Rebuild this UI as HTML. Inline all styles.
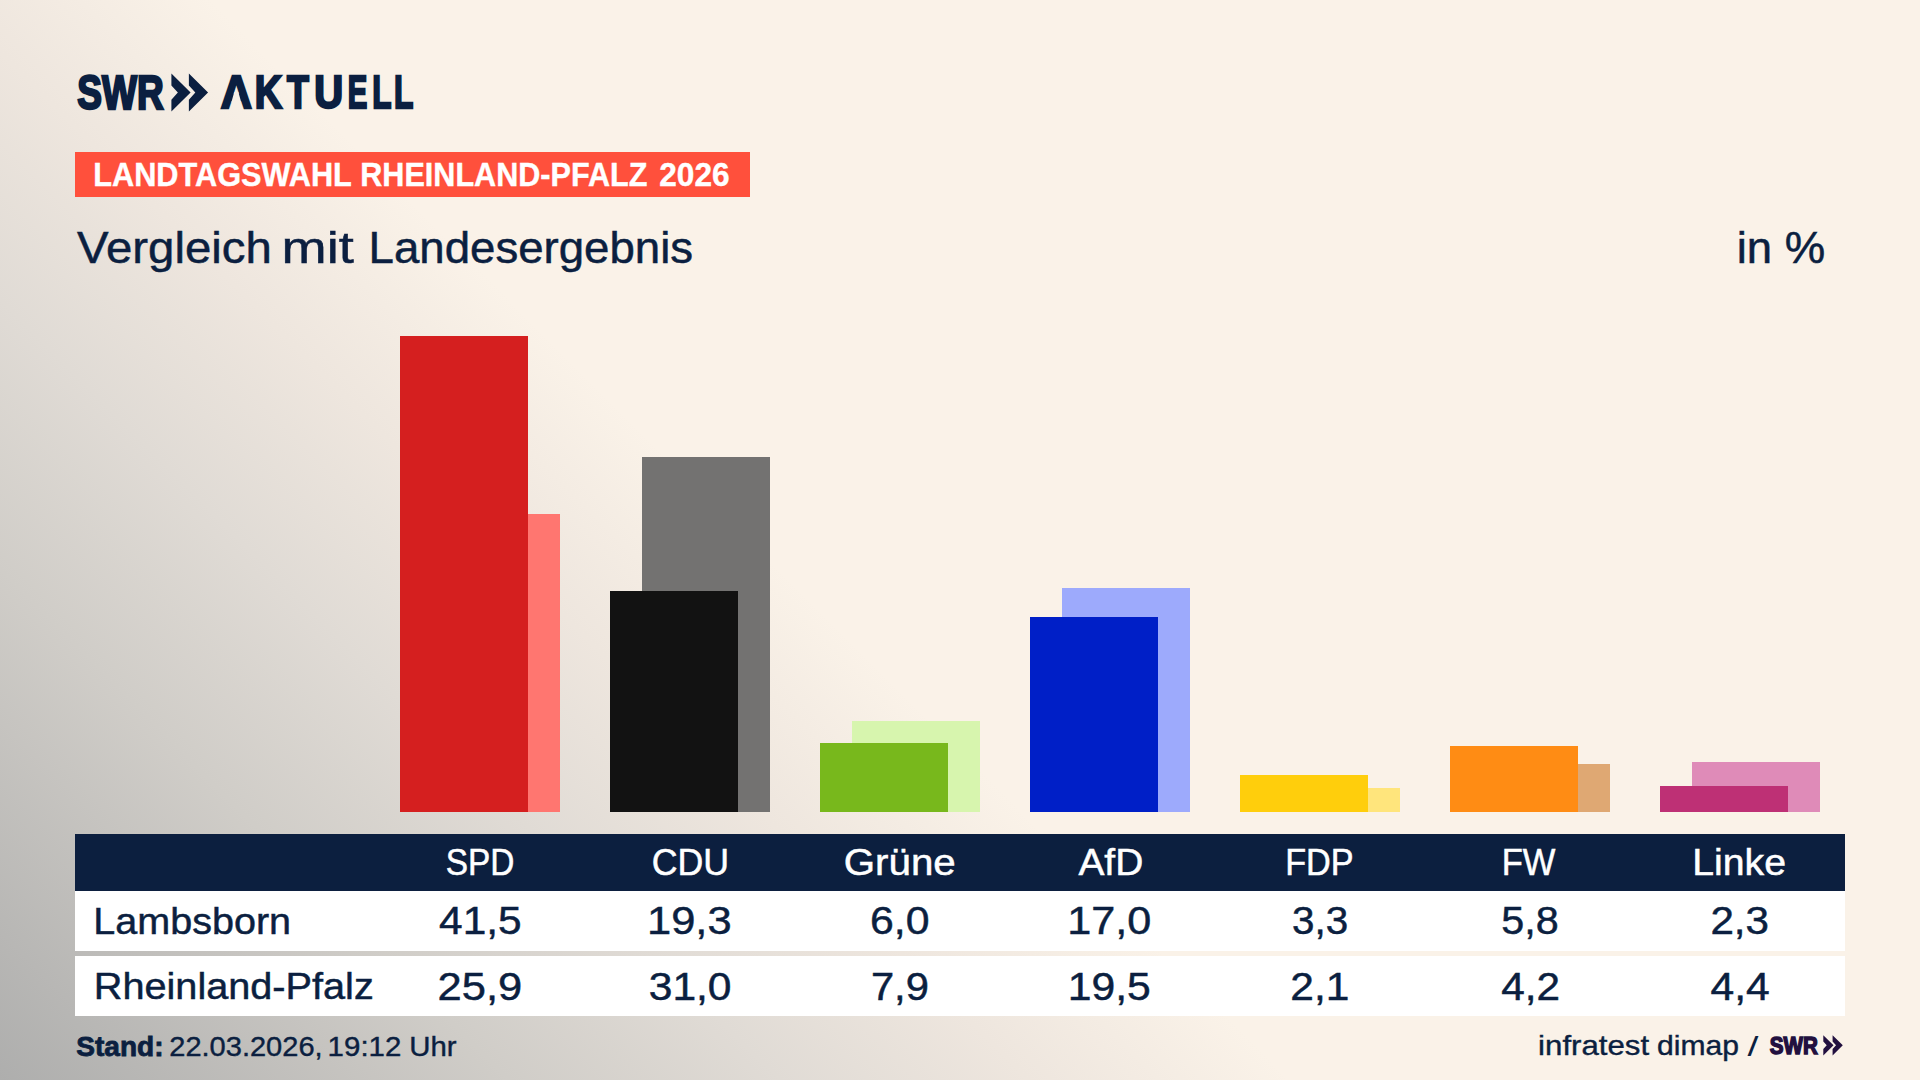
<!DOCTYPE html>
<html lang="de"><head><meta charset="utf-8"><title>Vergleich mit Landesergebnis</title>
<style>html,body{margin:0;padding:0;background:#faf2e8;overflow:hidden}body{width:1920px;height:1080px}svg{display:block}text{font-family:'Liberation Sans', sans-serif;white-space:pre}</style></head><body>
<svg width="1920" height="1080" viewBox="0 0 1920 1080">
<defs><linearGradient id="bg" gradientUnits="userSpaceOnUse" x1="0" y1="1080" x2="1500" y2="-420"><stop offset="0" stop-color="#aeaead"/><stop offset="0.17" stop-color="#d0cdc8"/><stop offset="0.26" stop-color="#e0dbd5"/><stop offset="0.343" stop-color="#eee6de"/><stop offset="0.43" stop-color="#faf2e8"/><stop offset="1" stop-color="#faf2e8"/></linearGradient></defs>
<rect x="0" y="0" width="1920" height="1080" fill="url(#bg)"/>
<rect x="75" y="152" width="675" height="45" fill="#ff503c"/>
<rect x="432" y="514.0" width="128" height="298.0" fill="#ff7670"/>
<rect x="400" y="336.0" width="128" height="476.0" fill="#d51f1f"/>
<rect x="642" y="457.0" width="128" height="355.0" fill="#737271"/>
<rect x="610" y="591.0" width="128" height="221.0" fill="#121212"/>
<rect x="852" y="721.0" width="128" height="91.0" fill="#d7f5ae"/>
<rect x="820" y="743.0" width="128" height="69.0" fill="#78b81c"/>
<rect x="1062" y="588.0" width="128" height="224.0" fill="#9daafc"/>
<rect x="1030" y="617.0" width="128" height="195.0" fill="#001fc7"/>
<rect x="1272" y="788.0" width="128" height="24.0" fill="#ffe57c"/>
<rect x="1240" y="775.0" width="128" height="37.0" fill="#ffce0c"/>
<rect x="1482" y="764.0" width="128" height="48.0" fill="#dfa873"/>
<rect x="1450" y="746.0" width="128" height="66.0" fill="#ff8c14"/>
<rect x="1692" y="762.0" width="128" height="50.0" fill="#df8bb8"/>
<rect x="1660" y="786.0" width="128" height="26.0" fill="#be3075"/>
<rect x="75" y="834" width="1770" height="57" fill="#0c1f3f"/>
<rect x="75" y="891" width="1770" height="60" fill="#ffffff"/>
<rect x="75" y="956" width="1770" height="60" fill="#ffffff"/>
<polygon points="171.40,73.60 190.59,92.60 171.40,111.60 171.40,99.63 177.86,92.60 171.40,85.57" fill="#0b1f40"/>
<polygon points="188.88,73.60 208.07,92.60 188.88,111.60 188.88,99.63 195.34,92.60 188.88,85.57" fill="#0b1f40"/>
<polygon points="1823.30,1035.20 1833.50,1045.30 1823.30,1055.40 1823.30,1049.04 1826.73,1045.30 1823.30,1041.56" fill="#22103f"/>
<polygon points="1832.59,1035.20 1842.79,1045.30 1832.59,1055.40 1832.59,1049.04 1836.03,1045.30 1832.59,1041.56" fill="#22103f"/>
<text transform="translate(77.36 108.80) scale(0.7808 1)" font-size="47.43" font-weight="700" fill="#0b1f40" stroke="#0b1f40" stroke-width="2.20" vector-effect="non-scaling-stroke">SWR</text>
<text y="108.40" font-size="46.00" font-weight="700" fill="#0b1f40" stroke="#0b1f40" stroke-width="2.40" vector-effect="non-scaling-stroke"><tspan x="220.74" textLength="31.12" lengthAdjust="spacingAndGlyphs">A</tspan><tspan x="254.83" textLength="27.35" lengthAdjust="spacingAndGlyphs">K</tspan><tspan x="287.04" textLength="21.89" lengthAdjust="spacingAndGlyphs">T</tspan><tspan x="314.30" textLength="28.89" lengthAdjust="spacingAndGlyphs">U</tspan><tspan x="347.84" textLength="19.54" lengthAdjust="spacingAndGlyphs">E</tspan><tspan x="372.31" textLength="19.25" lengthAdjust="spacingAndGlyphs">L</tspan><tspan x="394.10" textLength="19.36" lengthAdjust="spacingAndGlyphs">L</tspan></text>
<polygon points="234.20,92.13 238.39,92.13 241.29,102.51 231.31,102.51" fill="url(#bg)"/>
<text fill="#ffffff"><tspan x="93.26" y="185.80" textLength="258.58" lengthAdjust="spacingAndGlyphs" font-size="33.14" font-weight="700" stroke="#ffffff" stroke-width="0.40">LANDTAGSWAHL</tspan> <tspan x="360.27" y="185.80" textLength="287.07" lengthAdjust="spacingAndGlyphs" font-size="33.14" font-weight="700" stroke="#ffffff" stroke-width="0.40">RHEINLAND-PFALZ</tspan> <tspan x="659.25" y="185.80" textLength="70.29" lengthAdjust="spacingAndGlyphs" font-size="33.14" font-weight="700" stroke="#ffffff" stroke-width="0.40">2026</tspan></text>
<text fill="#0b1f40"><tspan x="77.05" y="262.95" textLength="194.76" lengthAdjust="spacingAndGlyphs" font-size="43.48" font-weight="400" stroke="#0b1f40" stroke-width="0.50">Vergleich</tspan> <tspan x="281.60" y="262.95" textLength="72.23" lengthAdjust="spacingAndGlyphs" font-size="43.48" font-weight="400" stroke="#0b1f40" stroke-width="0.50">mit</tspan> <tspan x="368.60" y="262.95" textLength="324.52" lengthAdjust="spacingAndGlyphs" font-size="43.48" font-weight="400" stroke="#0b1f40" stroke-width="0.50">Landesergebnis</tspan></text>
<text transform="translate(1736.72 263.35) scale(1.0448 1)" font-size="43.57" font-weight="400" fill="#0b1f40" stroke="#0b1f40" stroke-width="0.50" vector-effect="non-scaling-stroke">in %</text>
<text transform="translate(445.71 875.35) scale(0.9033 1)" font-size="36.96" font-weight="400" fill="#ffffff" stroke="#ffffff" stroke-width="0.50" vector-effect="non-scaling-stroke">SPD</text>
<text transform="translate(651.71 875.35) scale(0.9662 1)" font-size="36.96" font-weight="400" fill="#ffffff" stroke="#ffffff" stroke-width="0.50" vector-effect="non-scaling-stroke">CDU</text>
<text transform="translate(843.74 875.35) scale(1.0901 1)" font-size="36.96" font-weight="400" fill="#ffffff" stroke="#ffffff" stroke-width="0.50" vector-effect="non-scaling-stroke">Grüne</text>
<text transform="translate(1078.38 875.35) scale(1.0533 1)" font-size="36.96" font-weight="400" fill="#ffffff" stroke="#ffffff" stroke-width="0.50" vector-effect="non-scaling-stroke">AfD</text>
<text transform="translate(1285.21 875.35) scale(0.9260 1)" font-size="36.96" font-weight="400" fill="#ffffff" stroke="#ffffff" stroke-width="0.50" vector-effect="non-scaling-stroke">FDP</text>
<text transform="translate(1501.63 875.35) scale(0.9356 1)" font-size="36.96" font-weight="400" fill="#ffffff" stroke="#ffffff" stroke-width="0.50" vector-effect="non-scaling-stroke">FW</text>
<text transform="translate(1692.26 875.35) scale(1.0612 1)" font-size="36.96" font-weight="400" fill="#ffffff" stroke="#ffffff" stroke-width="0.50" vector-effect="non-scaling-stroke">Linke</text>
<text transform="translate(439.10 934.15) scale(1.1069 1)" font-size="38.29" font-weight="400" fill="#0b1f40" stroke="#0b1f40" stroke-width="0.50" vector-effect="non-scaling-stroke">41,5</text>
<text transform="translate(646.96 934.15) scale(1.1355 1)" font-size="38.29" font-weight="400" fill="#0b1f40" stroke="#0b1f40" stroke-width="0.50" vector-effect="non-scaling-stroke">19,3</text>
<text transform="translate(869.99 934.15) scale(1.1167 1)" font-size="38.29" font-weight="400" fill="#0b1f40" stroke="#0b1f40" stroke-width="0.50" vector-effect="non-scaling-stroke">6,0</text>
<text transform="translate(1067.23 934.15) scale(1.1284 1)" font-size="38.29" font-weight="400" fill="#0b1f40" stroke="#0b1f40" stroke-width="0.50" vector-effect="non-scaling-stroke">17,0</text>
<text transform="translate(1292.04 934.15) scale(1.0554 1)" font-size="38.29" font-weight="400" fill="#0b1f40" stroke="#0b1f40" stroke-width="0.50" vector-effect="non-scaling-stroke">3,3</text>
<text transform="translate(1501.20 934.15) scale(1.0794 1)" font-size="38.29" font-weight="400" fill="#0b1f40" stroke="#0b1f40" stroke-width="0.50" vector-effect="non-scaling-stroke">5,8</text>
<text transform="translate(1710.39 934.15) scale(1.1017 1)" font-size="38.29" font-weight="400" fill="#0b1f40" stroke="#0b1f40" stroke-width="0.50" vector-effect="non-scaling-stroke">2,3</text>
<text transform="translate(437.57 1000.15) scale(1.1365 1)" font-size="38.29" font-weight="400" fill="#0b1f40" stroke="#0b1f40" stroke-width="0.50" vector-effect="non-scaling-stroke">25,9</text>
<text transform="translate(648.72 1000.15) scale(1.1114 1)" font-size="38.29" font-weight="400" fill="#0b1f40" stroke="#0b1f40" stroke-width="0.50" vector-effect="non-scaling-stroke">31,0</text>
<text transform="translate(870.91 1000.15) scale(1.0900 1)" font-size="38.29" font-weight="400" fill="#0b1f40" stroke="#0b1f40" stroke-width="0.50" vector-effect="non-scaling-stroke">7,9</text>
<text transform="translate(1067.76 1000.15) scale(1.1143 1)" font-size="38.29" font-weight="400" fill="#0b1f40" stroke="#0b1f40" stroke-width="0.50" vector-effect="non-scaling-stroke">19,5</text>
<text transform="translate(1290.37 1000.15) scale(1.1102 1)" font-size="38.29" font-weight="400" fill="#0b1f40" stroke="#0b1f40" stroke-width="0.50" vector-effect="non-scaling-stroke">2,1</text>
<text transform="translate(1501.15 1000.15) scale(1.1048 1)" font-size="38.29" font-weight="400" fill="#0b1f40" stroke="#0b1f40" stroke-width="0.50" vector-effect="non-scaling-stroke">4,2</text>
<text transform="translate(1710.50 1000.15) scale(1.1136 1)" font-size="38.29" font-weight="400" fill="#0b1f40" stroke="#0b1f40" stroke-width="0.50" vector-effect="non-scaling-stroke">4,4</text>
<text transform="translate(93.29 933.55) scale(1.0661 1)" font-size="37.10" font-weight="400" fill="#0b1f40" stroke="#0b1f40" stroke-width="0.50" vector-effect="non-scaling-stroke">Lambsborn</text>
<text transform="translate(93.78 999.15) scale(1.0693 1)" font-size="37.10" font-weight="400" fill="#0b1f40" stroke="#0b1f40" stroke-width="0.50" vector-effect="non-scaling-stroke">Rheinland-Pfalz</text>
<text fill="#0b1f40"><tspan x="76.24" y="1056.20" textLength="87.27" lengthAdjust="spacingAndGlyphs" font-size="27.00" font-weight="700" stroke="#0b1f40" stroke-width="0.80">Stand:</tspan> <tspan x="169.25" y="1056.40" textLength="153.40" lengthAdjust="spacingAndGlyphs" font-size="27.97" font-weight="400" stroke="#0b1f40" stroke-width="0.40">22.03.2026,</tspan> <tspan x="327.64" y="1056.40" textLength="73.72" lengthAdjust="spacingAndGlyphs" font-size="27.97" font-weight="400" stroke="#0b1f40" stroke-width="0.40">19:12</tspan> <tspan x="409.24" y="1056.40" textLength="47.34" lengthAdjust="spacingAndGlyphs" font-size="27.97" font-weight="400" stroke="#0b1f40" stroke-width="0.40">Uhr</tspan></text>
<text fill="#0b1f40"><tspan x="1538.13" y="1055.40" textLength="111.00" lengthAdjust="spacingAndGlyphs" font-size="27.81" font-weight="400" stroke="#0b1f40" stroke-width="0.40">infratest</tspan> <tspan x="1657.00" y="1055.40" textLength="81.89" lengthAdjust="spacingAndGlyphs" font-size="27.81" font-weight="400" stroke="#0b1f40" stroke-width="0.40">dimap</tspan> <tspan x="1747.60" y="1055.60" textLength="10.91" lengthAdjust="spacingAndGlyphs" font-size="28.36" font-weight="400">/</tspan></text>
<text transform="translate(1769.79 1053.70) scale(0.8687 1)" font-size="23.71" font-weight="700" fill="#22103f" stroke="#22103f" stroke-width="1.40" vector-effect="non-scaling-stroke">SWR</text>
</svg></body></html>
